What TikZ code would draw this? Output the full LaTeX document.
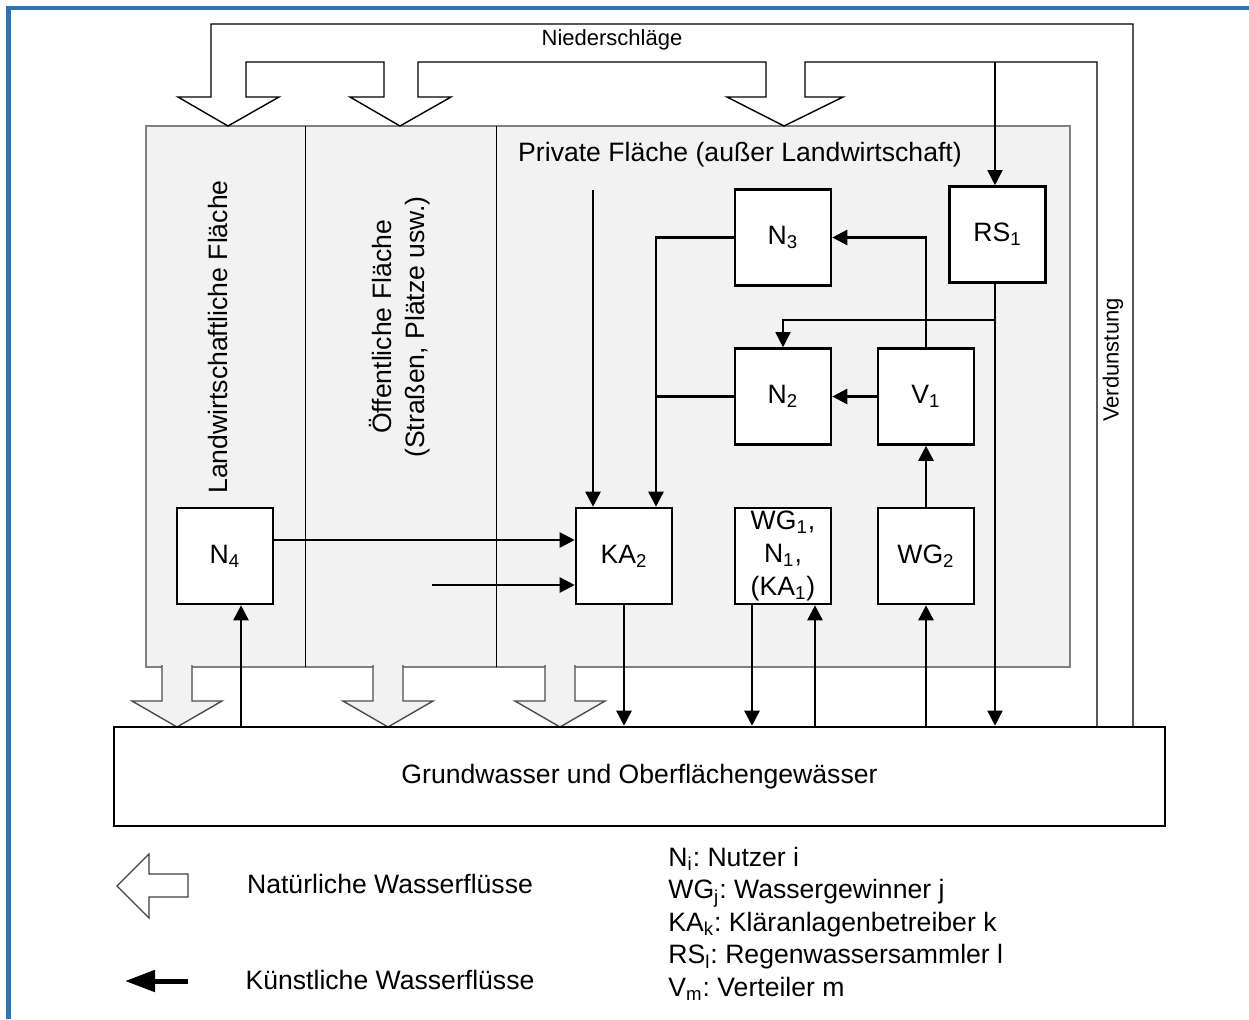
\documentclass[tikz,border=0pt]{standalone}
\usepackage{fontspec}
\setmainfont{Liberation Sans}
\usetikzlibrary{arrows.meta,positioning}
\definecolor{flaeche}{HTML}{F2F2F2}
\definecolor{rahmen}{HTML}{2E74B5}
\frenchspacing

\begin{document}
\begin{tikzpicture}[x=0.5pt,y=-0.5pt,
  every node/.style={font=\fontsize{13.3pt}{16.5pt}\selectfont},
  klein/.style={font=\fontsize{11pt}{13pt}\selectfont},
  akteur/.style={draw,line width=1.3pt,fill=white,minimum width=48pt,minimum height=48pt,inner sep=0pt,align=center},
  fluss/.style={line width=1.3pt,-{Triangle[length=7.5pt,width=7.5pt]}},
  flussduenn/.style={line width=0.75pt,-{Triangle[length=7.5pt,width=7.5pt]}},
  natur/.style={draw=black!70,line width=0.7pt,fill=flaeche}]
\useasboundingbox (0,0) rectangle (1249,1019);
\draw[rahmen,line width=2.2pt] (8.5,1019) -- (8.5,8) -- (1249,8);

% Flaechen
\draw[draw=black!50,fill=flaeche,line width=0.7pt] (146,126) rectangle (1070,667);
\draw[line width=0.5pt] (305,126) -- (305,667);
\draw[line width=0.5pt] (496,126) -- (496,667);

% Niederschlag / Verdunstung
\draw[line width=0.7pt] (1097,727) -- (1097,62) -- (805,62) -- (805,97) -- (843,97) -- (784,126)
  -- (727,97) -- (766,97) -- (766,62) -- (418,62) -- (418,97) -- (451,97) -- (400,126)
  -- (350,97) -- (384,97) -- (384,62) -- (246,62) -- (246,97) -- (279,97) -- (228,126)
  -- (178,97) -- (211,97) -- (211,24) -- (1133,24) -- (1133,727);
\node[klein] (nied) at (612,40) {Niederschläge};
\node[klein,rotate=90] (verd) at (1113,360) {Verdunstung};

% natuerliche Abfluesse
\foreach \t in {177,388,560}
  \filldraw[natur] (\t-15,665) -- (\t-15,701) -- (\t-45,701) -- (\t,727)
    -- (\t+45,701) -- (\t+15,701) -- (\t+15,665);

\node (privtxt) at (740,155) {Private Fläche (außer Landwirtschaft)};
\node[rotate=90] (landtxt) at (218,337) {Landwirtschaftliche Fläche};
\node[rotate=90,align=center] (oefftxt) at (400,327) {Öffentliche Fläche\\(Straßen, Plätze usw.)};

% Akteure
\node[akteur] (n4) at (225,556) {N\textsubscript{4}};
\node[akteur] (ka2) at (624,556) {KA\textsubscript{2}};
\node[akteur] (wg1) at (783,556) {WG\textsubscript{1},\\N\textsubscript{1},\\(KA\textsubscript{1})};
\node[akteur] (wg2) at (926,556) {WG\textsubscript{2}};
\node[akteur] (n2) at (783,396.5) {N\textsubscript{2}};
\node[akteur] (v1) at (926,396.5) {V\textsubscript{1}};
\node[akteur] (n3) at (783,237.5) {N\textsubscript{3}};
\node[akteur] (rs1) at (997.5,234.5) {RS\textsubscript{1}};
\node[draw,line width=1.3pt,minimum width=525.5pt,minimum height=49.5pt] (grund) at (639.5,776.5)
  {Grundwasser und Oberflächengewässer};

\coordinate (regen) at (995,62);
\coordinate (verzw) at (995,320);
\coordinate (privat) at (593,190);
\coordinate (oeff) at (432,585);

% kuenstliche Fluesse
\draw[flussduenn] (regen) -- (regen |- rs1.north);
\draw[flussduenn] (regen |- rs1.south) -- (regen |- grund.north);
\draw[flussduenn] (verzw) -| (n2.north);
\draw[fluss] (v1.north) |- (n3.east);
\draw[fluss] (v1.west) -- (n2.east);
\draw[fluss] (wg2.north) -- (v1.south);
\draw[fluss] (grund.north -| wg2.south) -- (wg2.south);
\draw[fluss] ([xshift=-15.5pt]wg1.south) -- ([xshift=-15.5pt]wg1.south |- grund.north);
\draw[fluss] ([xshift=16pt]wg1.south |- grund.north) -- ([xshift=16pt]wg1.south);
\draw[fluss] (ka2.south) -- (ka2.south |- grund.north);
\draw[fluss] ([xshift=8pt]n4.south |- grund.north) -- ([xshift=8pt]n4.south);
\draw[fluss] ([yshift=8pt]n4.east) -- ([yshift=8pt]n4.east -| ka2.west);
\draw[fluss] (oeff) -- (oeff -| ka2.west);
\draw[fluss] (privat) -- (privat |- ka2.north);
\draw[fluss] (n3.west) -| ([xshift=16pt]ka2.north);
\draw[line width=1.3pt] (n2.west) -- ([xshift=16pt]ka2.north |- n2.west);

% Legende
\draw[draw=black!75,line width=0.6pt,fill=white] (117,886) -- (149,854) -- (149,874) -- (188,874)
  -- (188,897) -- (149,897) -- (149,918) -- cycle;
\draw[line width=2.5pt,-{Triangle[length=15pt,width=10.5pt]}] (188,981) -- (125,981);
\node (lnat) at (390,884) {Natürliche Wasserflüsse};
\node (lkuen) at (390,980) {Künstliche Wasserflüsse};
\node[anchor=west,align=left,inner sep=0pt,font=\fontsize{13.3pt}{16.25pt}\selectfont] (abk) at (668,924)
  {N\textsubscript{i}: Nutzer i\\WG\textsubscript{j}: Wassergewinner j\\KA\textsubscript{k}: Kläranlagenbetreiber k\\RS\textsubscript{l}: Regenwassersammler l\\V\textsubscript{m}: Verteiler m};
\end{tikzpicture}
\end{document}
